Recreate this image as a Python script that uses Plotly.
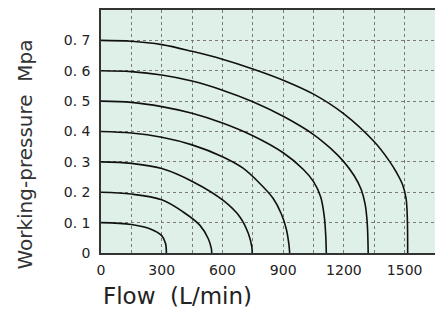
import plotly.graph_objects as go

# Data (flow in L/min, pressure in MPa)
flow_01 = [0, 150, 241, 299, 319, 323]
pres_01 = [0.10, 0.094, 0.080, 0.058, 0.031, 0.0]

flow_02 = [0, 150, 300, 406, 489, 530, 545, 547]
pres_02 = [0.20, 0.194, 0.175, 0.135, 0.091, 0.047, 0.015, 0.0]

flow_03 = [0, 150, 300, 456, 604, 687, 728, 745, 747]
pres_03 = [0.30, 0.295, 0.278, 0.234, 0.173, 0.118, 0.064, 0.020, 0.0]

flow_04 = [0, 150, 300, 450, 600, 700, 786, 850, 890, 915, 928, 932]
pres_04 = [0.40, 0.395, 0.381, 0.356, 0.317, 0.280, 0.228, 0.180, 0.130, 0.080, 0.030, 0.0]

flow_05 = [0, 150, 300, 450, 600, 750, 900, 1000, 1050, 1085, 1103, 1110, 1113]
pres_05 = [0.50, 0.496, 0.482, 0.460, 0.428, 0.386, 0.330, 0.275, 0.235, 0.185, 0.120, 0.060, 0.0]

flow_06 = [0, 150, 300, 450, 600, 750, 900, 1050, 1133, 1200, 1250, 1285, 1305, 1315, 1320]
pres_06 = [0.60, 0.597, 0.586, 0.566, 0.536, 0.498, 0.450, 0.390, 0.345, 0.300, 0.255, 0.210, 0.160, 0.100, 0.0]

flow_07 = [0, 150, 300, 450, 600, 750, 900, 1050, 1200, 1350, 1422, 1460, 1490, 1507, 1513, 1515]
pres_07 = [0.70, 0.697, 0.686, 0.664, 0.638, 0.606, 0.569, 0.523, 0.458, 0.366, 0.305, 0.265, 0.225, 0.180, 0.120, 0.0]

x_ticks = [0, 150, 300, 450, 600, 750, 900, 1050, 1200, 1350, 1500, 1650]
x_labels = ["0", "", "300", "", "600", "", "900", "", "1200", "", "1500", ""]
y_ticks = [0, 0.1, 0.2, 0.3, 0.4, 0.5, 0.6, 0.7, 0.8]
y_labels = ["0", "0. 1", "0. 2", "0. 3", "0. 4", "0. 5", "0. 6", "0. 7", ""]

series = [(flow_01, pres_01), (flow_02, pres_02), (flow_03, pres_03), (flow_04, pres_04),
          (flow_05, pres_05), (flow_06, pres_06), (flow_07, pres_07)]

fig = go.Figure()
for fx, py in series:
    fig.add_trace(go.Scatter(x=fx, y=py, mode="lines",
                             line=dict(color="#111111", width=1.6, shape="spline", smoothing=1.0),
                             showlegend=False, hoverinfo="skip"))

font_family = "DejaVu Sans"
# the page body adds an 8px offset, so the figure is sized to fit the 443x311 window
fig.update_layout(
    width=435, height=303,
    margin=dict(l=93, r=8, t=2, b=58, autoexpand=False),
    paper_bgcolor="white",
    plot_bgcolor="#DFF0E9",
    showlegend=False,
    font=dict(family=font_family, color="#222222"),
)
fig.update_xaxes(range=[0, 1650], tickmode="array", tickvals=x_ticks, ticktext=x_labels,
                 showgrid=True, gridcolor="#7a7a7a", griddash="dot", gridwidth=1,
                 showline=True, linecolor="#333333", linewidth=1.5, mirror=True,
                 ticks="", zeroline=False, tickfont=dict(size=14, family=font_family),
                 ticklabelstandoff=3, automargin=False)
fig.update_yaxes(range=[0, 0.8], tickmode="array", tickvals=y_ticks, ticktext=y_labels,
                 showgrid=True, gridcolor="#7a7a7a", griddash="dot", gridwidth=1,
                 showline=True, linecolor="#333333", linewidth=1.5, mirror=True,
                 ticks="", zeroline=False, tickfont=dict(size=14, family=font_family),
                 ticklabelstandoff=6, automargin=False)

fig.add_annotation(text="Flow  (L/min)", xref="paper", yref="paper", x=0, y=-0.178,
                   xanchor="left", yanchor="middle", showarrow=False,
                   font=dict(size=23, family=font_family, color="#222222"))
fig.add_annotation(text="Working-pressure  Mpa", xref="paper", yref="paper", x=-0.2275, y=0.405,
                   xanchor="center", yanchor="middle", textangle=-90, showarrow=False,
                   font=dict(size=20, family=font_family, color="#333333"))

fig.write_html("out.html")
